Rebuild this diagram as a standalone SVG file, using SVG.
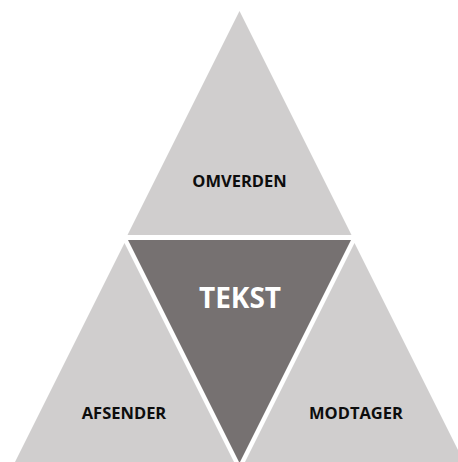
<svg xmlns="http://www.w3.org/2000/svg" width="458" height="462" viewBox="0 0 458 462">
  <style>
    .light { fill: #D0CECE; }
    .dark { fill: #767171; }
    .lbl { font-family: "Open Sans", "Liberation Sans", sans-serif; font-weight: 700; font-size: 16.5px; fill: #0D0D0D; text-anchor: middle; }
    .big { font-family: "Open Sans", "Liberation Sans", sans-serif; font-weight: 700; font-size: 28px; fill: #FFFFFF; text-anchor: middle; }
  </style>
  <rect width="458" height="462" fill="#FFFFFF"/>
  <g id="omverden">
    <polygon class="light" points="239.5,11 127.5,235 351.5,235"/>
    <text class="lbl" x="239.5" y="187">OMVERDEN</text>
  </g>
  <g id="afsender">
    <polygon class="light" points="124.5,243 4.5,483 244.5,483"/>
    <text class="lbl" x="124" y="419">AFSENDER</text>
  </g>
  <g id="modtager">
    <polygon class="light" points="354.5,243 234.5,483 474.5,483"/>
    <text class="lbl" x="356" y="419">MODTAGER</text>
  </g>
  <g id="tekst">
    <polygon class="dark" points="128,240 351,240 239.5,463"/>
    <text class="big" x="240" y="308">TEKST</text>
  </g>
  <g id="connectors"/>
</svg>
